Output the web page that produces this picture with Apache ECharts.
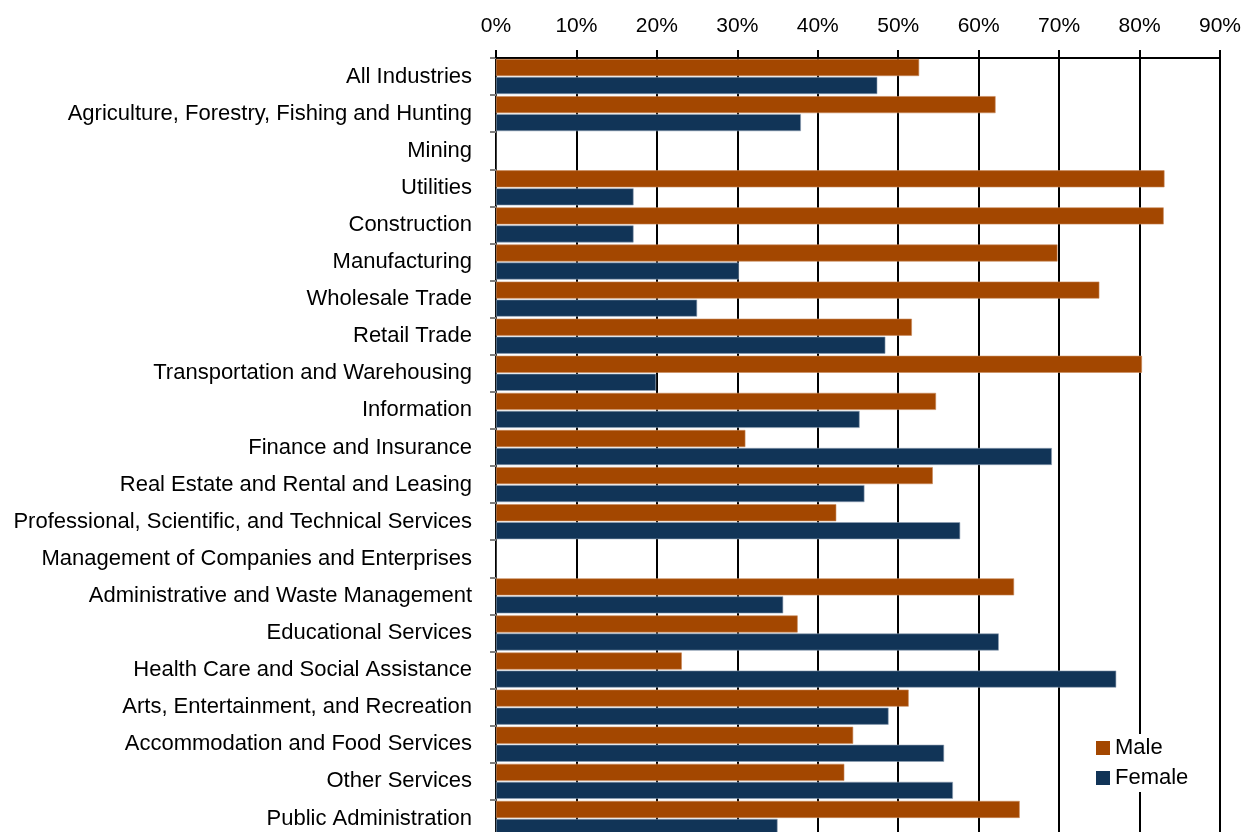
<!DOCTYPE html>
<html>
<head>
<meta charset="utf-8">
<script src="https://cdn.jsdelivr.net/npm/echarts@6/dist/echarts.min.js"></script>
<style>
  html, body { margin: 0; padding: 0; background: #fff; }
  #chart { width: 1254px; height: 832px; }
</style>
</head>
<body>
<div id="chart"></div>
<script>
// industries, top to bottom
var categories = [
  'All Industries',
  'Agriculture, Forestry, Fishing and Hunting',
  'Mining',
  'Utilities',
  'Construction',
  'Manufacturing',
  'Wholesale Trade',
  'Retail Trade',
  'Transportation and Warehousing',
  'Information',
  'Finance and Insurance',
  'Real Estate and Rental and Leasing',
  'Professional, Scientific, and Technical Services',
  'Management of Companies and Enterprises',
  'Administrative and Waste Management',
  'Educational Services',
  'Health Care and Social Assistance',
  'Arts, Entertainment, and Recreation',
  'Accommodation and Food Services',
  'Other Services',
  'Public Administration'
]
var maleValues = [52.6, 62.1, null, 83.1, 83.0, 69.8, 75.0, 51.7, 80.3, 54.7, 31.0, 54.3, 42.3, null, 64.4, 37.5, 23.1, 51.3, 44.4, 43.3, 65.1]
var femaleValues = [47.4, 37.9, null, 17.1, 17.1, 30.2, 25.0, 48.4, 19.9, 45.2, 69.1, 45.8, 57.7, null, 35.7, 62.5, 77.1, 48.8, 55.7, 56.8, 35.0]
var xTicks = [0, 10, 20, 30, 40, 50, 60, 70, 80, 90]

var font = "'Liberation Sans Narrow', 'Arial Narrow', 'Liberation Sans', Arial, sans-serif"

var chart = echarts.init(document.getElementById('chart'))
var options = {
  animation: false,
  textStyle: { fontFamily: font },
  grid: {
    left: 496,
    top: 58,
    width: 724,
    height: 779,
    containLabel: false,
    outerBoundsMode: 'none'
  },
  legend: {
    orient: 'vertical',
    left: 1090,
    top: 734,
    padding: [3, 6, 3, 6],
    backgroundColor: '#fff',
    itemWidth: 14,
    itemHeight: 14,
    itemGap: 8,
    icon: 'rect',
    itemStyle: { borderWidth: 0 },
    textStyle: { fontFamily: font, fontSize: 22, color: '#000' },
    data: ['Male', 'Female']
  },
  xAxis: {
    type: 'value',
    position: 'top',
    min: xTicks[0],
    max: xTicks[xTicks.length - 1],
    interval: 10,
    axisLabel: {
      margin: 21,
      color: '#000',
      fontFamily: font,
      fontSize: 21,
      formatter: '{value}%'
    },
    axisLine: {
      show: true,
      lineStyle: { color: '#000', width: 2 }
    },
    axisTick: {
      show: true,
      length: 8,
      lineStyle: { color: '#000', width: 2 }
    },
    splitLine: {
      show: true,
      lineStyle: { color: '#000', width: 2 }
    }
  },
  yAxis: {
    type: 'category',
    inverse: true,
    data: categories,
    axisLabel: {
      margin: 24,
      color: '#000',
      fontFamily: font,
      fontSize: 22
    },
    axisLine: {
      show: true,
      lineStyle: { color: '#404040', width: 1 }
    },
    axisTick: {
      show: true,
      length: 6,
      lineStyle: { color: '#808080', width: 2 }
    },
    splitLine: { show: false }
  },
  series: [
    {
      name: 'Male',
      type: 'bar',
      barWidth: 17,
      barGap: '6%',
      color: '#A34700',
      itemStyle: { borderColor: '#C98A5A', borderWidth: 0.6 },
      data: maleValues
    },
    {
      name: 'Female',
      type: 'bar',
      barWidth: 17,
      barGap: '6%',
      color: '#113457',
      itemStyle: { borderColor: '#8EA0B4', borderWidth: 0.6 },
      data: femaleValues
    }
  ]
}
chart.setOption(options)
</script>
</body>
</html>
